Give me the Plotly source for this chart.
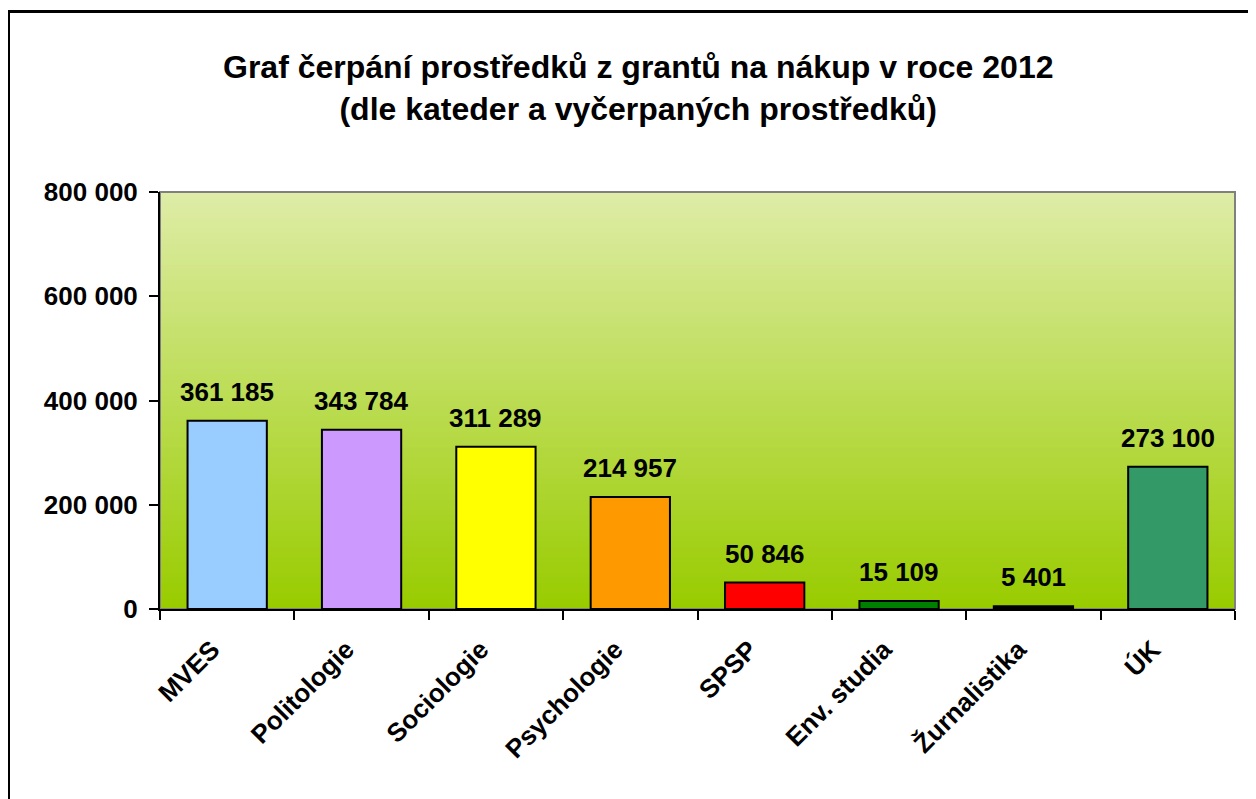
import plotly.graph_objects as go

categories = ["MVES", "Politologie", "Sociologie", "Psychologie", "SPSP", "Env. studia", "Žurnalistika", "ÚK"]
values = [361185, 343784, 311289, 214957, 50846, 15109, 5401, 273100]
bar_colors = ["#99CCFF", "#CC99FF", "#FFFF00", "#FF9900", "#FF0000", "#008000", "#000000", "#339966"]
y_ticks = [0, 200000, 400000, 600000, 800000]
title_lines = ["Graf čerpání prostředků z grantů na nákup v roce 2012", "(dle kateder a vyčerpaných prostředků)"]

FONT = "Liberation Sans, Arial, sans-serif"
OFF = 8  # page body margin
W, H = 1256 - OFF, 799 - OFF
ML, MR, MT, MB = 160 - OFF, 21, 192 - OFF, 190
PW, PH = W - ML - MR, H - MT - MB

def px_x(px):
    return (px - OFF - ML) / PW

def px_y(py):
    return (H - MB - (py - OFF)) / PH

fig = go.Figure()
fig.add_trace(go.Bar(
    x=categories, y=values,
    marker=dict(color=bar_colors, line=dict(color="#000000", width=2)),
    width=0.59, showlegend=False, hoverinfo="x+y",
))

shapes = []
top = (222, 236, 166)
bot = (153, 204, 0)
n = 80
for i in range(n):
    f = i / (n - 1)
    c = tuple(round(bot[k] + (top[k] - bot[k]) * f) for k in range(3))
    shapes.append(dict(type="rect", xref="paper", yref="paper", x0=0, x1=1,
                       y0=i / n, y1=(i + 1) / n + 0.002, line=dict(width=0),
                       fillcolor="rgb(%d,%d,%d)" % c, layer="below"))
shapes.append(dict(type="rect", xref="paper", yref="paper", x0=0, x1=1, y0=0, y1=1,
                   line=dict(color="#808080", width=2), layer="below"))
shapes.append(dict(type="rect", xref="paper", yref="paper",
                   x0=px_x(8.5), x1=px_x(1300), y0=px_y(11.5), y1=px_y(840),
                   line=dict(color="#000000", width=3), layer="below"))

annotations = []
for c, v in zip(categories, values):
    annotations.append(dict(x=c, y=v, xref="x", yref="y", text="<b>%s</b>" % f"{v:,}".replace(",", " "),
                            showarrow=False, yanchor="bottom", yshift=12,
                            font=dict(family=FONT, size=26, color="#000000")))
annotations.append(dict(x=px_x(638), y=px_y(47), xref="paper", yref="paper",
                        text="<b>" + "<br>".join(title_lines) + "</b>",
                        showarrow=False, xanchor="center", yanchor="top",
                        font=dict(family=FONT, size=32, color="#000000")))

fig.update_layout(
    width=W, height=H,
    margin=dict(l=ML, r=MR, t=MT, b=MB, pad=0),
    paper_bgcolor="#FFFFFF", plot_bgcolor="rgba(0,0,0,0)",
    separators=". ",
    shapes=shapes, annotations=annotations,
)
fig.update_xaxes(
    showgrid=False, showline=True, linecolor="#000000", linewidth=2,
    ticks="outside", tickson="boundaries", ticklen=9, tickwidth=2, tickcolor="#000000",
    tickangle=-45, tickfont=dict(family=FONT, size=26, color="#000000"),
    ticklabelstandoff=13, ticklabelshift=-15,
    tickprefix="<b>", ticksuffix="</b>", zeroline=False,
)
fig.update_yaxes(
    range=[0, 800000], tickvals=y_ticks,
    ticktext=["<b>%s</b>" % f"{t:,}".replace(",", " ") for t in y_ticks],
    showgrid=False, showline=True, linecolor="#000000", linewidth=2,
    ticks="outside", ticklen=9, tickwidth=2, tickcolor="#000000",
    ticklabelstandoff=6,
    tickfont=dict(family=FONT, size=26, color="#000000"), zeroline=False,
)

fig.write_html("out.html")
